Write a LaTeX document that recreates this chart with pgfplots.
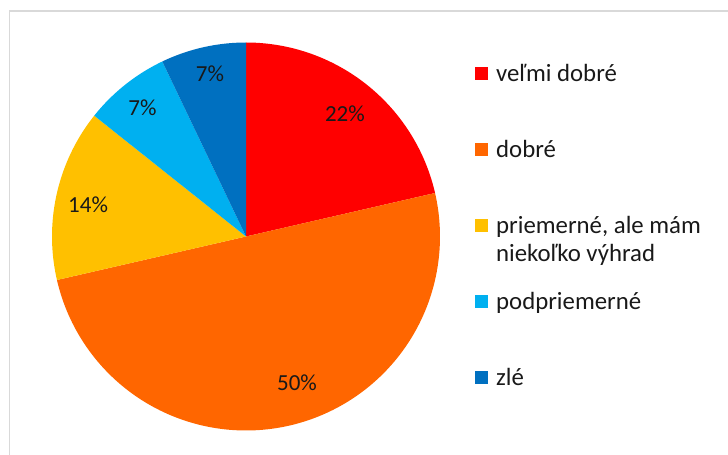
\documentclass[border=0pt]{standalone}
\usepackage{pgfplots}
\pgfplotsset{compat=1.18}
\usepackage{pgfplotstable}
\usepackage{fontspec}
\setmainfont{Carlito}
\definecolor{cA}{HTML}{FF0000}
\definecolor{cB}{HTML}{FF6600}
\definecolor{cC}{HTML}{FFC000}
\definecolor{cD}{HTML}{00B0F0}
\definecolor{cE}{HTML}{0070C0}
\definecolor{frame}{HTML}{D9D9D9}
% shares of the pie (per cent)
\def\vA{21.4}
\def\vB{50.0}
\def\vC{14.3}
\def\vD{7.2}
\def\vE{7.1}
\pgfmathsetmacro\aA{90}
\pgfmathsetmacro\aB{\aA-3.6*\vA}
\pgfmathsetmacro\aC{\aB-3.6*\vB}
\pgfmathsetmacro\aD{\aC-3.6*\vC}
\pgfmathsetmacro\aE{\aD-3.6*\vD}
\pgfmathsetmacro\aF{\aE-3.6*\vE}
% data labels
\pgfplotstableread{
x y label
0.510 0.631 22\%
0.263 -0.755 50\%
-0.814 0.162 14\%
-0.534 0.662 7\%
-0.186 0.838 7\%
}\labels
\begin{document}
\begin{tikzpicture}
\path[use as bounding box] (0pt,0pt) rectangle (728pt,455pt);
\draw[frame, line width=1.5pt] (9.5pt,0pt) -- (9.5pt,444pt) -- (728pt,444pt);
\begin{axis}[
  at={(246pt,218.5pt)}, anchor=center,
  width=388pt, height=388pt, scale only axis,
  xmin=-1, xmax=1, ymin=-1, ymax=1,
  hide axis, clip=false,
  legend image code/.code={\fill[#1] (0pt,1.5pt) rectangle (13pt,14.5pt);},
  legend style={
    at={(1.0902,0.9472)}, anchor=north west,
    draw=none, fill=none, inner sep=0pt,
    cells={anchor=base west},
    nodes={inner sep=0pt, text height=18pt, text depth=6pt,
           font=\fontsize{24.8}{28}\selectfont, text=black!90},
    row sep=52pt, column sep=8pt,
  },
]
\addplot[fill=cA, draw=none, domain=\aB:\aA, samples=80] ({cos(x)},{sin(x)}) -- (0,0) -- cycle;
\addlegendentry{veľmi dobré}
\addplot[fill=cB, draw=none, domain=\aC:\aB, samples=150] ({cos(x)},{sin(x)}) -- (0,0) -- cycle;
\addlegendentry{dobré}
\addplot[fill=cC, draw=none, domain=\aD:\aC, samples=60] ({cos(x)},{sin(x)}) -- (0,0) -- cycle;
\addlegendentry{\begin{tabular}[t]{@{}l@{}}priemerné, ale mám\\niekoľko výhrad\end{tabular}}
\addplot[fill=cD, draw=none, domain=\aE:\aD, samples=40] ({cos(x)},{sin(x)}) -- (0,0) -- cycle;
\addlegendentry{podpriemerné}
\addplot[fill=cE, draw=none, domain=\aF:\aE, samples=40] ({cos(x)},{sin(x)}) -- (0,0) -- cycle;
\addlegendentry{zlé}
\addplot[draw=none, mark=none, forget plot,
  nodes near coords, point meta=explicit symbolic,
  nodes near coords align={center},
  every node near coord/.append style={anchor=center, inner sep=0pt,
     font=\fontsize{23}{28}\selectfont, text=black!90}]
  table[x=x, y=y, meta=label] {\labels};
\end{axis}
\end{tikzpicture}
\end{document}
